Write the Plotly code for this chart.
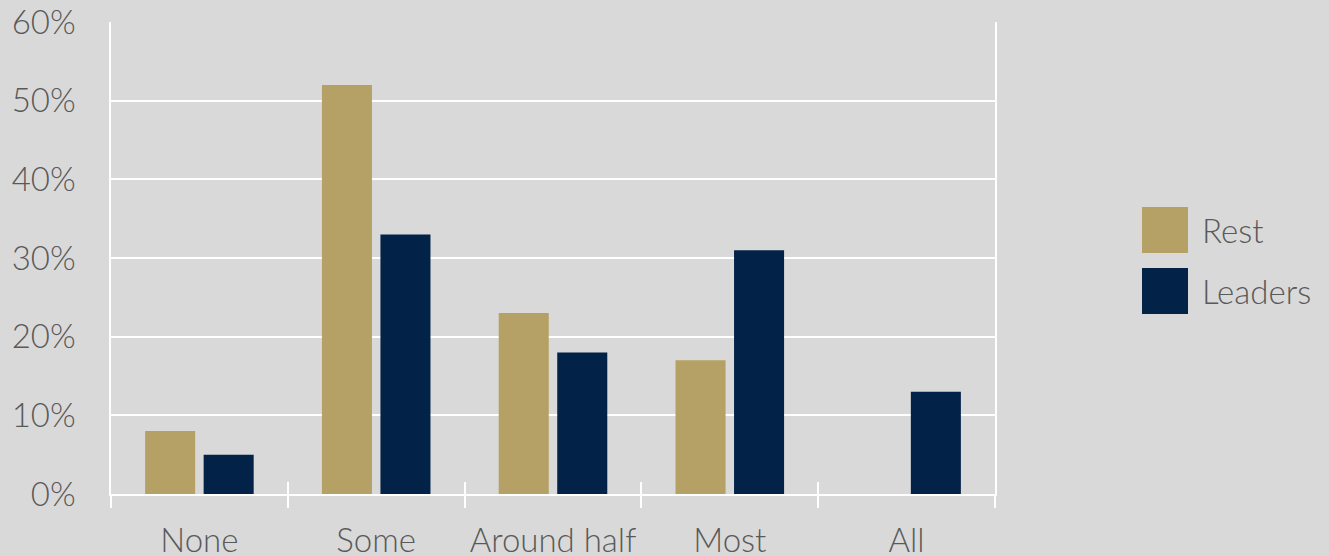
import plotly.graph_objects as go

categories = ["None", "Some", "Around half", "Most", "All"]
series_names = ["Rest", "Leaders"]
rest_values = [8, 52, 23, 17, 0]
leaders_values = [5, 33, 18, 31, 13]
y_ticks = [0, 10, 20, 30, 40, 50, 60]
y_tick_labels = [f"{v}%" for v in y_ticks]

GOLD = "#b5a165"
NAVY = "#032247"
BG = "#d9d9d9"
TEXT = "#595959"
FONT = "Lato"

fig = go.Figure()
fig.add_trace(go.Bar(x=categories, y=rest_values, name=series_names[0],
                     marker=dict(color=GOLD, line=dict(width=0)), showlegend=False))
fig.add_trace(go.Bar(x=categories, y=leaders_values, name=series_names[1],
                     marker=dict(color=NAVY, line=dict(width=0)), showlegend=False))
# invisible trace carrying the category axis used for the inward tick marks
fig.add_trace(go.Bar(x=categories, y=[0] * len(categories), xaxis="x2",
                     marker=dict(opacity=0), showlegend=False, hoverinfo="skip"))

fig.update_layout(
    width=1329, height=556,
    margin=dict(l=111, r=334, t=22, b=62, autoexpand=False),
    paper_bgcolor=BG, plot_bgcolor=BG,
    barmode="group", bargap=0.338, bargroupgap=0.145,
    font=dict(family=FONT, color=TEXT, size=32, weight=300),
    xaxis=dict(
        type="category", tickson="boundaries", ticks="outside", ticklen=12,
        tickwidth=2, tickcolor="white", showline=True, linecolor="white",
        linewidth=2, showgrid=False, tickfont=dict(size=33, color=TEXT, weight=300),
        ticklabelstandoff=16, automargin=False,
    ),
    xaxis2=dict(
        type="category", overlaying="x", matches="x", side="bottom",
        tickson="boundaries", ticks="inside", ticklen=12, tickwidth=2,
        tickcolor="white", showticklabels=False, showgrid=False, showline=False,
        automargin=False,
    ),
    yaxis=dict(
        range=[0, 60], tickvals=y_ticks, ticktext=y_tick_labels,
        showgrid=True, gridcolor="white", gridwidth=1.5,
        showline=True, linecolor="white", linewidth=1.5, mirror=True,
        ticks="", zeroline=False, tickfont=dict(size=33, color=TEXT, weight=300),
        ticklabelstandoff=27, automargin=False,
    ),
)

# legend: colour swatches with series names
legend_colors = [GOLD, NAVY]
for i, (name, color) in enumerate(zip(series_names, legend_colors)):
    top = 207 + i * 61
    fig.add_shape(type="rect", xref="paper", yref="paper",
                  x0=(1142 - 111) / 884, x1=(1188 - 111) / 884,
                  y0=(494 - top - 46) / 472, y1=(494 - top) / 472,
                  fillcolor=color, line=dict(width=0))
    fig.add_annotation(xref="paper", yref="paper",
                       x=(1200 - 111) / 884, y=(494 - top - 23) / 472,
                       text=name, showarrow=False, xanchor="left", yanchor="middle",
                       font=dict(family=FONT, size=33, color=TEXT, weight=300))

fig.write_html("out.html")
